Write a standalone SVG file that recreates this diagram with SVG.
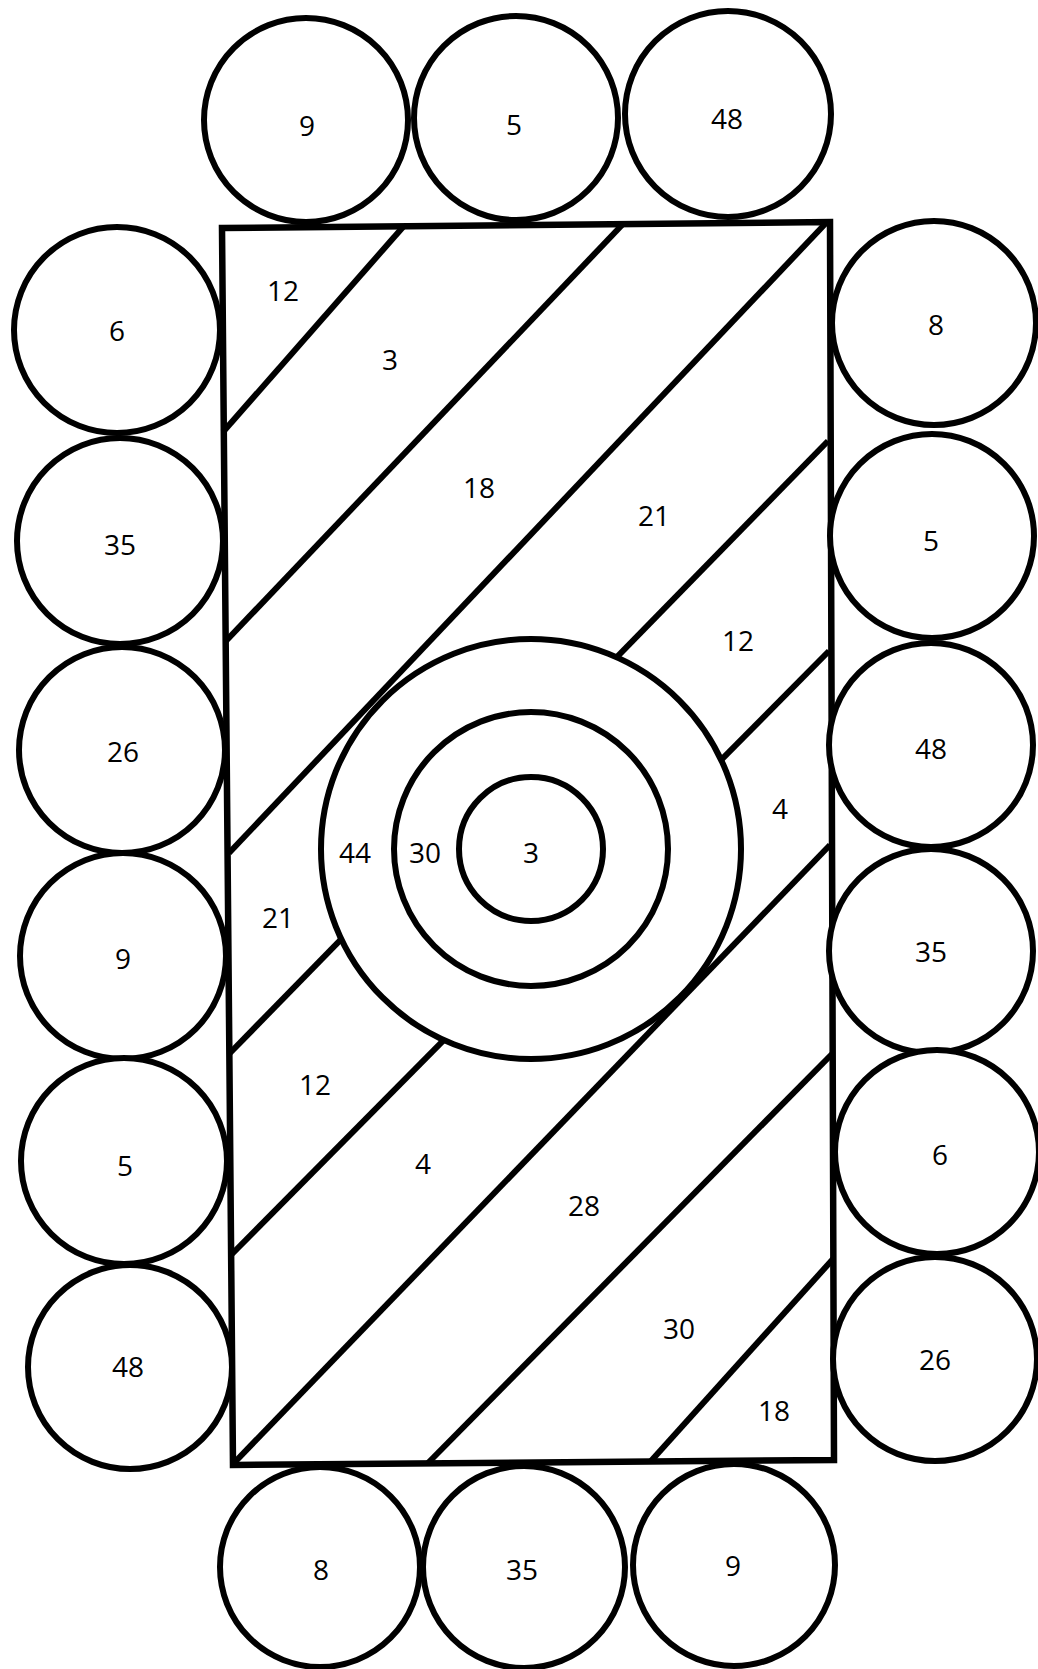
<svg xmlns="http://www.w3.org/2000/svg" width="1038" height="1669" viewBox="0 0 1038 1669">
<style>
.c{fill:#fff;stroke:#000;stroke-width:6}
.r{fill:none;stroke:#000;stroke-width:6.5;stroke-linejoin:miter}
.l{stroke:#000;stroke-width:6;fill:none}
text{font-family:"Open Sans","Noto Sans",sans-serif;font-size:28px;fill:#000;text-anchor:middle}
</style>
<rect width="1038" height="1669" fill="#fff"/>
<g id="connectors">
<line class="l" x1="403" y1="227" x2="223" y2="432"/>
<line class="l" x1="622" y1="225" x2="225" y2="642"/>
<line class="l" x1="826" y1="223" x2="229" y2="853"/>
<line class="l" x1="828" y1="441" x2="229" y2="1054"/>
<line class="l" x1="829" y1="651" x2="231" y2="1255"/>
<line class="l" x1="830" y1="845" x2="233" y2="1464"/>
<line class="l" x1="832" y1="1054" x2="428" y2="1463"/>
<line class="l" x1="833" y1="1259" x2="651" y2="1461"/>
</g>
<g id="frame">
<polygon class="r" points="222,228 830,222 834,1460 233,1465"/>
</g>
<g id="target">
<circle class="c" cx="531" cy="849" r="210"/>
<circle class="c" cx="531" cy="849" r="137"/>
<circle class="c" cx="531" cy="849" r="72"/>
</g>
<g id="regions">
<text x="283" y="301">12</text>
<text x="390" y="370">3</text>
<text x="479" y="498">18</text>
<text x="654" y="526">21</text>
<text x="738" y="651">12</text>
<text x="780" y="819">4</text>
<text x="355" y="863">44</text>
<text x="425" y="863">30</text>
<text x="531" y="863">3</text>
<text x="278" y="928">21</text>
<text x="315" y="1095">12</text>
<text x="423" y="1174">4</text>
<text x="584" y="1216">28</text>
<text x="679" y="1339">30</text>
<text x="774" y="1421">18</text>
</g>
<g id="top-9"><circle class="c" cx="306" cy="120" r="102"/><text x="307" y="136">9</text></g>
<g id="top-5"><circle class="c" cx="516" cy="118" r="102"/><text x="514" y="135">5</text></g>
<g id="top-48"><circle class="c" cx="728" cy="114" r="103"/><text x="727" y="129">48</text></g>
<g id="left-6"><circle class="c" cx="117" cy="330" r="103"/><text x="117" y="341">6</text></g>
<g id="left-35"><circle class="c" cx="120" cy="541" r="103"/><text x="120" y="555">35</text></g>
<g id="left-26"><circle class="c" cx="122" cy="750" r="103"/><text x="123" y="762">26</text></g>
<g id="left-9"><circle class="c" cx="123" cy="956" r="103"/><text x="123" y="969">9</text></g>
<g id="left-5"><circle class="c" cx="124" cy="1161" r="103"/><text x="125" y="1176">5</text></g>
<g id="left-48"><circle class="c" cx="130" cy="1367" r="102"/><text x="128" y="1377">48</text></g>
<g id="right-8"><circle class="c" cx="934" cy="323" r="102"/><text x="936" y="335">8</text></g>
<g id="right-5"><circle class="c" cx="932" cy="536" r="102"/><text x="931" y="551">5</text></g>
<g id="right-48"><circle class="c" cx="931" cy="745" r="102"/><text x="931" y="759">48</text></g>
<g id="right-35"><circle class="c" cx="931" cy="951" r="102"/><text x="931" y="962">35</text></g>
<g id="right-6"><circle class="c" cx="937" cy="1152" r="102"/><text x="940" y="1165">6</text></g>
<g id="right-26"><circle class="c" cx="935" cy="1359" r="102"/><text x="935" y="1370">26</text></g>
<g id="bottom-8"><circle class="c" cx="320" cy="1567" r="100"/><text x="321" y="1580">8</text></g>
<g id="bottom-35"><circle class="c" cx="524" cy="1567" r="101"/><text x="522" y="1580">35</text></g>
<g id="bottom-9"><circle class="c" cx="734" cy="1565" r="101"/><text x="733" y="1576">9</text></g>
</svg>
